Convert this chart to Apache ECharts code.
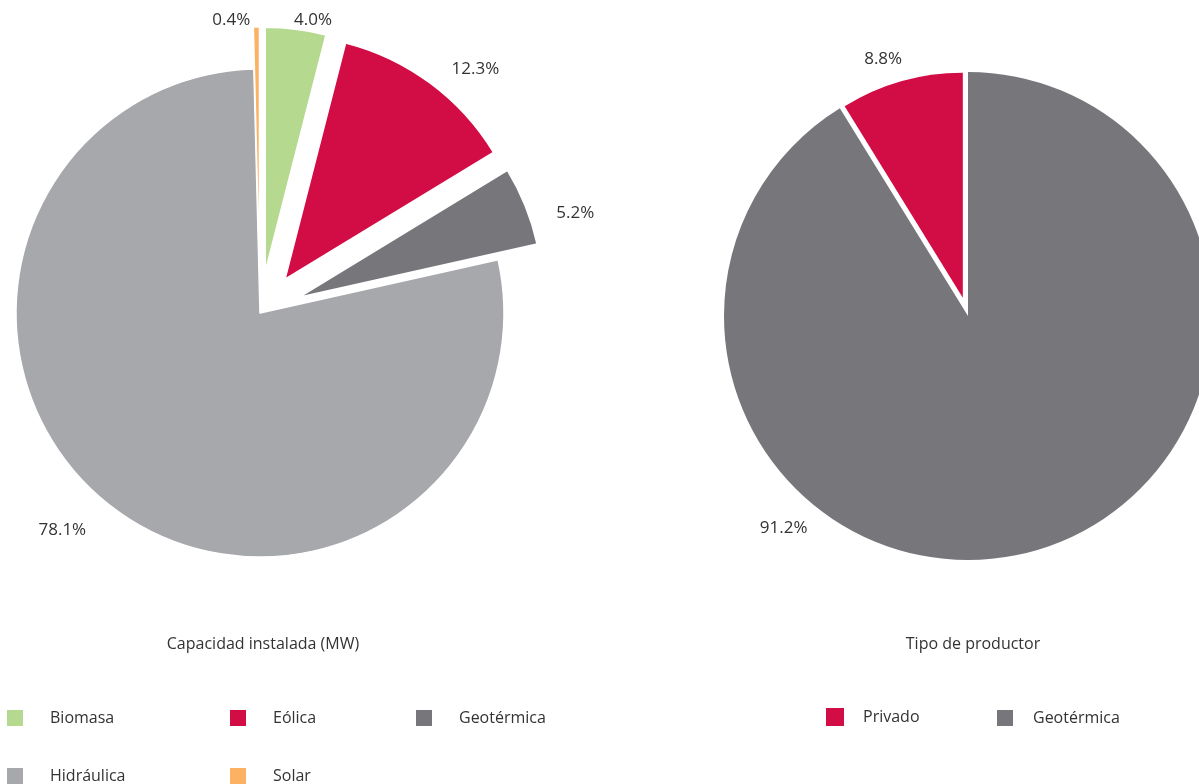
<!DOCTYPE html>
<html>
<head>
<meta charset="utf-8">
<script src="https://cdn.jsdelivr.net/npm/echarts@6/dist/echarts.min.js"></script>
<style>
  html, body { margin: 0; padding: 0; background: #ffffff; }
  #chart { width: 1199px; height: 784px; }
</style>
</head>
<body>
<div id="chart"></div>
<script>
// Installed capacity by technology (% of MW)
const capCategories = ['Biomasa', 'Eólica', 'Geotérmica', 'Hidráulica', 'Solar'];
const capValues = [4.0, 12.3, 5.2, 78.1, 0.4];
const capExploded = [true, true, true, false, true];

// Producer type (%)
const prodCategories = ['Geotérmica', 'Privado'];
const prodValues = [91.2, 8.8];
const prodExploded = [false, true];

// Legend order for each block
const capLegend = ['Biomasa', 'Eólica', 'Geotérmica', 'Hidráulica', 'Solar'];
const prodLegend = ['Privado', 'Geotérmica'];

const palette = {
  'Biomasa': '#b5d98e',
  'Eólica': '#d20c45',
  'Geotérmica': '#77767b',
  'Hidráulica': '#a7a8ac',
  'Solar': '#fbb262',
  'Privado': '#d20c45'
};

// how far each outside label sits beyond its slice edge, plus a small nudge
const capLabelReach = { 'Biomasa': 9, 'Eólica': 24, 'Geotérmica': 27, 'Hidráulica': 32, 'Solar': 7 };
const capLabelNudge = {
  'Biomasa': [-5, 0], 'Eólica': [5, 5], 'Geotérmica': [4, 17], 'Hidráulica': [-2, 0], 'Solar': [-4, 0]
};

const FONT = 'Open Sans';
const TEXT = '#333333';
const FS = 16;
const LABEL_FS = 17;

const LEFT_CENTER = [260, 313];
const RIGHT_CENTER = [968, 316];
const R = 244;

const pieLabel = {
  show: true,
  position: 'outside',
  formatter: p => p.value.toFixed(1) + '%',
  fontFamily: FONT,
  fontSize: LABEL_FS,
  color: TEXT,
  distanceToLabelLine: 2
};

const hiddenItem = {
  itemStyle: { color: 'rgba(0,0,0,0)', borderWidth: 0 },
  label: { show: false },
  emphasis: { disabled: true }
};

function capData() {
  return capCategories.map((n, i) => ({
    name: n,
    value: capValues[i],
    selected: capExploded[i],
    itemStyle: { color: palette[n] },
    labelLine: { show: false, length: capLabelReach[n], length2: 0 }
  }));
}

// show only the items whose "exploded" flag equals `which`
function prodData(which) {
  return prodCategories.map((n, i) => {
    const visible = prodExploded[i] === which;
    const base = { name: n, value: prodValues[i], selected: prodExploded[i] && which };
    if (!visible) return Object.assign(base, hiddenItem);
    return Object.assign(base, { itemStyle: { color: palette[n] } });
  });
}

function legendItem(name, x, y, gap) {
  return {
    left: x, top: y,
    padding: 0,
    data: [{ name: name, itemStyle: { color: palette[name] } }],
    icon: 'rect',
    itemWidth: 18, itemHeight: 18,
    selectedMode: false,
    textStyle: { fontFamily: FONT, fontSize: FS, color: TEXT, padding: [0, 0, 0, gap] }
  };
}

const capSlots = [[5, 708], [228, 708], [414, 708], [5, 766], [228, 766]];
const prodSlots = [[826, 708], [995, 708]];

const chart = echarts.init(document.getElementById('chart'), null, { renderer: 'canvas' });
chart.setOption({
  backgroundColor: '#ffffff',
  animation: false,
  title: [
    { text: 'Capacidad instalada (MW)', left: 258, top: 631, textAlign: 'center',
      textStyle: { fontFamily: FONT, fontSize: FS, fontWeight: 'normal', color: TEXT } },
    { text: 'Tipo de productor', left: 968, top: 631, textAlign: 'center',
      textStyle: { fontFamily: FONT, fontSize: FS, fontWeight: 'normal', color: TEXT } }
  ],
  legend: capLegend.map((n, i) => legendItem(n, capSlots[i][0], capSlots[i][1], 21))
    .concat(prodLegend.map((n, i) => legendItem(n, prodSlots[i][0], prodSlots[i][1], 14))),
  series: [
    {
      name: 'Capacidad instalada (MW)',
      type: 'pie',
      center: LEFT_CENTER,
      radius: [0, R],
      startAngle: 90,
      clockwise: true,
      selectedMode: 'multiple',
      selectedOffset: 42,
      avoidLabelOverlap: false,
      itemStyle: { borderColor: '#ffffff', borderWidth: 1.5 },
      label: pieLabel,
      emphasis: { scale: false },
      select: { itemStyle: { borderColor: '#ffffff', borderWidth: 1.5 } },
      labelLayout: function (p) {
        const nudge = capLabelNudge[capCategories[p.dataIndex]] || [0, 0];
        return { dx: nudge[0], dy: nudge[1] };
      },
      data: capData()
    },
    {
      // producer pie: main body
      name: 'Tipo de productor',
      type: 'pie',
      center: RIGHT_CENTER,
      radius: [0, R],
      startAngle: 90,
      clockwise: true,
      selectedMode: false,
      avoidLabelOverlap: false,
      itemStyle: { borderWidth: 0 },
      label: pieLabel,
      labelLine: { show: false },
      emphasis: { scale: false },
      // the large slice carries its label on the lower left side
      labelLayout: function (p) {
        const a = 221 * Math.PI / 180, d = R + 37;
        return {
          x: RIGHT_CENTER[0] + Math.sin(a) * d,
          y: RIGHT_CENTER[1] - Math.cos(a) * d,
          align: 'center', verticalAlign: 'middle'
        };
      },
      data: prodData(false)
    },
    {
      // producer pie: pulled-out slice
      name: 'Tipo de productor ',
      type: 'pie',
      center: RIGHT_CENTER,
      radius: [0, R - 19],
      startAngle: 90,
      clockwise: true,
      selectedMode: 'multiple',
      selectedOffset: 19,
      avoidLabelOverlap: false,
      itemStyle: { borderWidth: 0 },
      label: pieLabel,
      labelLine: { show: false, length: 23, length2: 0 },
      emphasis: { scale: false },
      labelLayout: function () { return { dx: 9, dy: 0 }; },
      data: prodData(true)
    }
  ]
});
</script>
</body>
</html>
